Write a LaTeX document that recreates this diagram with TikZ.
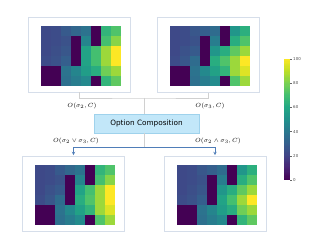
\documentclass[tikz,border=0pt]{standalone}
\usepackage{fontspec}
\newfontfamily\dvs{DejaVu Sans}
\usetikzlibrary{arrows.meta}
\definecolor{vir0}{HTML}{440154}
\definecolor{vir1}{HTML}{482475}
\definecolor{vir2}{HTML}{414487}
\definecolor{vir3}{HTML}{355F8D}
\definecolor{vir4}{HTML}{2A788E}
\definecolor{vir5}{HTML}{21918C}
\definecolor{vir6}{HTML}{22A884}
\definecolor{vir7}{HTML}{44BF70}
\definecolor{vir8}{HTML}{7AD151}
\definecolor{vir9}{HTML}{BDDF26}
\definecolor{vir10}{HTML}{FDE725}
\definecolor{panelline}{HTML}{D6DEEA}
\definecolor{connline}{HTML}{D0D0D0}
\definecolor{ocfill}{HTML}{C2E7F9}
\definecolor{ocline}{HTML}{9FD2EC}
\definecolor{bluelink}{HTML}{4F7DB8}
\newcommand\hmap[3]{%
  \foreach \hrow [count=\hr from 0] in {#3} {
    \foreach \hv [count=\hc from 0] in \hrow {
      \pgfmathtruncatemacro\lo{min(9,floor(\hv/10))}
      \pgfmathtruncatemacro\hi{\lo+1}
      \pgfmathtruncatemacro\pc{round((\hv-10*\lo)*10)}
      \fill[vir\hi!\pc!vir\lo] ({#1+\hc*10},{#2+\hr*10}) rectangle ++(10,10);
    }
  }
}
\tikzset{
  panel/.style={draw=panelline, line width=0.6pt, fill=white, minimum width=102pt, minimum height=75pt, inner sep=0pt},
  conn/.style={draw=connline, line width=0.6pt},
  ocbox/.style={draw=ocline, fill=ocfill, line width=0.6pt, minimum width=105pt, minimum height=19pt, inner sep=0pt, font=\dvs\fontsize{7.3}{8}\selectfont},
  lab/.style={inner sep=0pt, font=\fontsize{6}{7}\selectfont},
  bluelinkst/.style={draw=bluelink, line width=1.2pt},
  arr/.style={draw=bluelink, line width=0.8pt, -{Stealth[length=3.5pt,width=3.5pt,fill=bluelink!45]}},
  cbtick/.style={inner sep=0pt, anchor=west, font=\dvs\fontsize{4}{5}\selectfont, text=black!70},
}
\begin{document}
\begin{tikzpicture}[x=1pt,y=-1pt]
\useasboundingbox (0,0) rectangle (331,248);
% panels
\node[panel] (tl) at (79,54.5) {};
\node[panel] (tr) at (208,55) {};
\node[panel] (bl) at (73.5,194) {};
\node[panel] (br) at (215,194) {};
% heatmaps
\hmap{41}{26}{{22,23,28,33,38,0,65,72},{22,23,25,0,45,0,70,82},{22,24,27,0,58,70,85,100},{23,25,30,0,58,70,85,100},{0,0,38,45,55,62,78,85},{0,0,37,42,47,0,65,75}}
\hmap{170}{26}{{22,23,27,30,35,0,52,63},{22,23,25,0,42,0,62,72},{22,25,28,0,52,62,75,85},{23,27,35,0,62,72,85,100},{0,0,38,47,57,65,85,95},{0,0,37,42,48,0,72,85}}
\hmap{35}{165}{{22,23,28,33,38,0,65,72},{22,23,25,0,45,0,70,82},{22,25,28,0,58,70,85,100},{23,27,35,0,62,72,85,100},{0,0,38,47,57,65,85,95},{0,0,37,42,48,0,72,85}}
\hmap{177}{165}{{22,23,27,30,35,0,52,63},{22,23,25,0,42,0,62,72},{22,24,27,0,52,62,75,85},{23,25,30,0,58,70,85,100},{0,0,38,45,55,62,78,85},{0,0,37,42,47,0,65,75}}
% option composition
\node[ocbox] (oc) at (146.5,123.5) {Option Composition};
\coordinate (jt) at (144,98);
\coordinate (jb) at (144,147.3);
\draw[conn] (tl.south) |- (jt) -| (tr.south);
\draw[conn] (jt) -- (jt |- oc.north);
\draw[conn] (jt |- oc.south) -- (jb);
% labels
\node[lab] (l1) at (82,106) {$O(\sigma_2, C)$};
\node[lab] (l2) at (210,106) {$O(\sigma_3, C)$};
\node[lab] (l3) at (76,141) {$O(\sigma_2 \vee \sigma_3, C)$};
\node[lab] (l4) at (218,141) {$O(\sigma_2 \wedge \sigma_3, C)$};
% blue links
\draw[bluelinkst] (bl.north |- jb) -- (br.north |- jb);
\draw[arr, shorten >=1pt] (bl.north |- jb) -- (bl.north);
\draw[arr, shorten >=1pt] (br.north |- jb) -- (br.north);
% colorbar
\foreach \k in {0,...,99} {
  \pgfmathtruncatemacro\lo{min(9,floor(\k/10))}
  \pgfmathtruncatemacro\hi{\lo+1}
  \pgfmathtruncatemacro\pc{round((\k+0.5-10*\lo)*10)}
  \fill[vir\hi!\pc!vir\lo] (284,{180-(\k+1)*1.21}) rectangle (290,{180-\k*1.21+0.05});
}
\node[inner sep=0pt, minimum width=6pt, minimum height=121pt] (cb) at (287,119.5) {};
\foreach \t/\lbl in {0/0,20/20,40/40,60/60,80/80,100/100} {
  \draw[black!60, line width=0.3pt] (290,{180-\t*1.21}) -- ++(1.5,0);
  \node[cbtick] (cbt\t) at (293,{180-\t*1.21}) {\lbl};
}
\end{tikzpicture}
\end{document}
